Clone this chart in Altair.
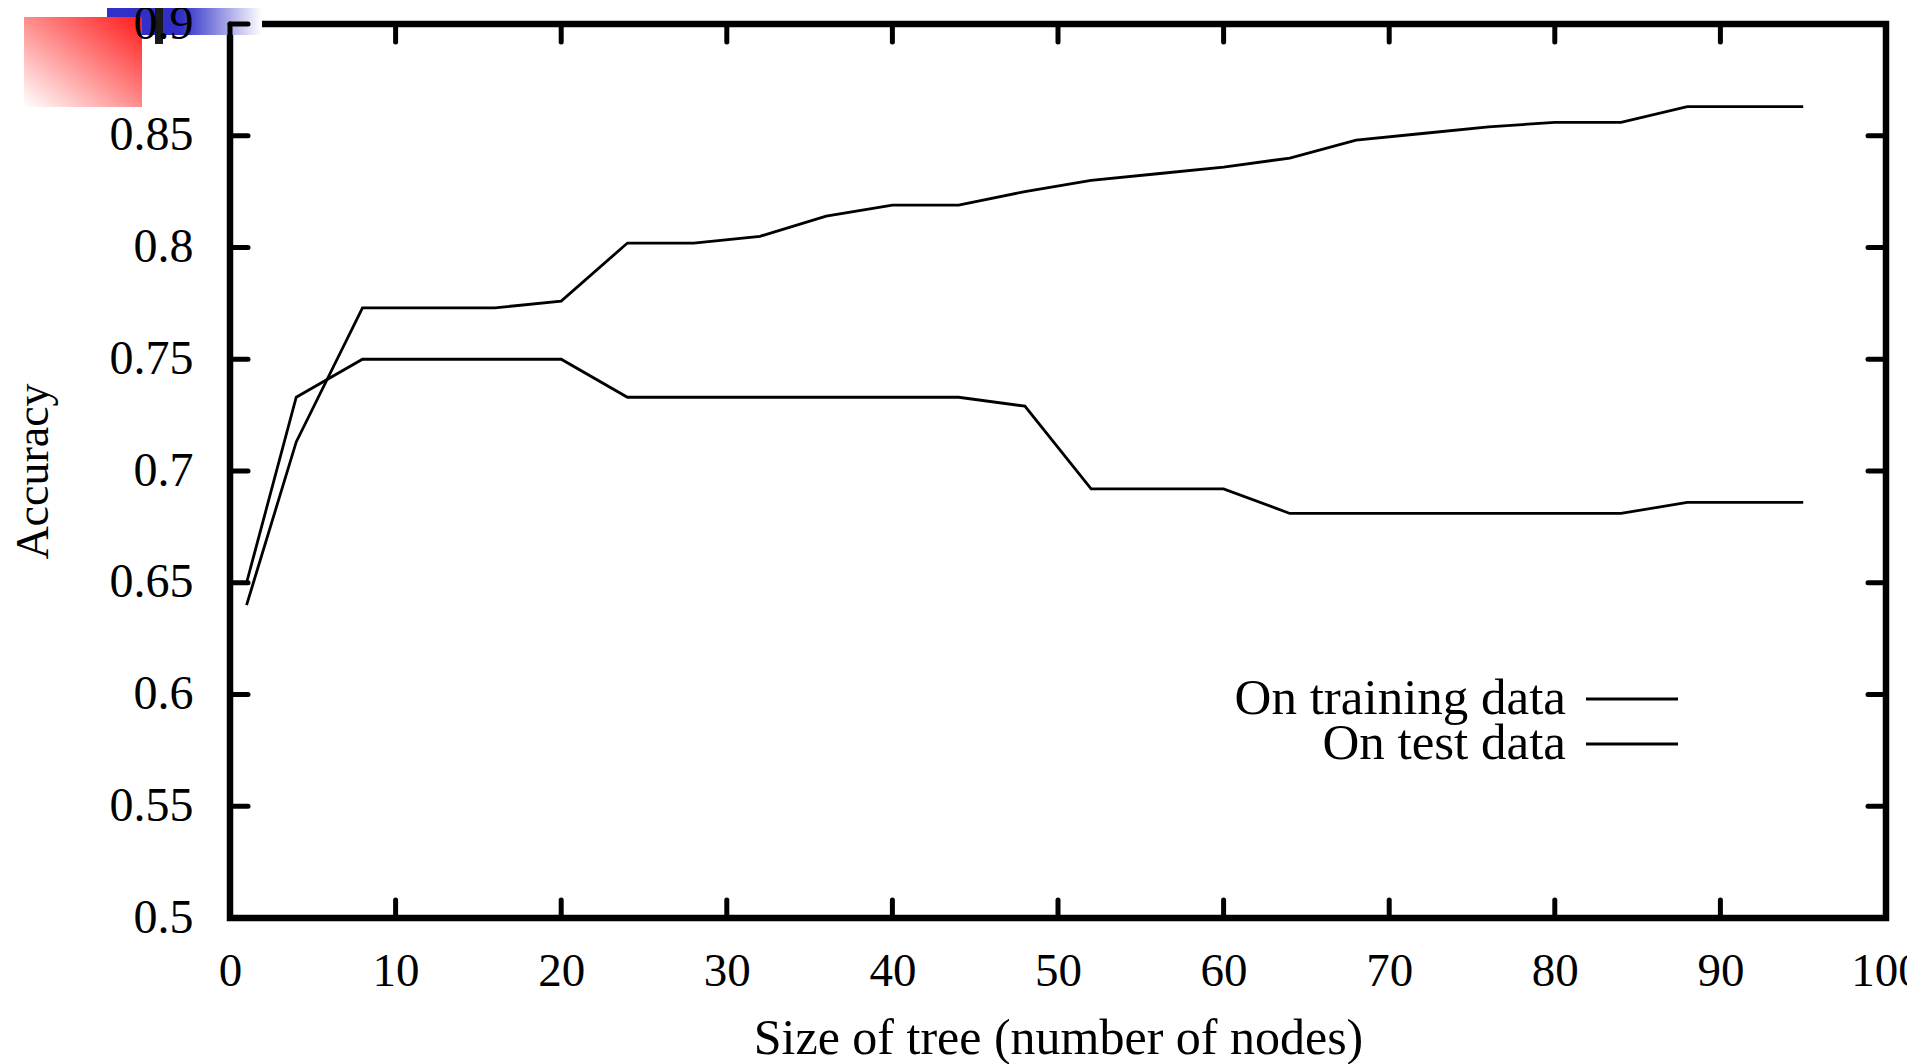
import altair as alt
import pandas as pd

# ---- data ----
sizes = [1, 4, 8, 12, 16, 20, 24, 28, 32, 36, 40, 44, 48, 52, 56, 60, 64, 68, 72, 76, 80, 84, 88, 95]
train_acc = [0.640, 0.713, 0.773, 0.773, 0.773, 0.776, 0.802, 0.802, 0.805, 0.814, 0.819, 0.819,
             0.825, 0.830, 0.833, 0.836, 0.840, 0.848, 0.851, 0.854, 0.856, 0.856, 0.863, 0.863]
test_acc = [0.650, 0.733, 0.750, 0.750, 0.750, 0.750, 0.733, 0.733, 0.733, 0.733, 0.733, 0.733,
            0.729, 0.692, 0.692, 0.692, 0.681, 0.681, 0.681, 0.681, 0.681, 0.681, 0.686, 0.686]
x_ticks = [0, 10, 20, 30, 40, 50, 60, 70, 80, 90, 100]
y_ticks = [0.5, 0.55, 0.6, 0.65, 0.7, 0.75, 0.8, 0.85, 0.9]
series_names = ["On training data", "On test data"]

W, H = 1656, 894
FONT = "Liberation Serif"
TICK_LEN = 18

df = pd.DataFrame({
    "size": sizes * 2,
    "acc": train_acc + test_acc,
    "series": [series_names[0]] * len(sizes) + [series_names[1]] * len(sizes),
})
xt = pd.DataFrame({"size": x_ticks})
yt = pd.DataFrame({"acc": y_ticks})
one = pd.DataFrame({"k": [0]})

xs = alt.Scale(domain=[0, 100], nice=False, zero=False)
ys = alt.Scale(domain=[0.5, 0.9], nice=False, zero=False)

x_axis = alt.Axis(values=x_ticks, format="d", ticks=False, tickSize=0, domain=False, grid=False,
                  labelFont=FONT, labelFontSize=47, labelColor="black", labelPadding=30,
                  labelFlush=False, labelBaseline="top", labelOverlap=False,
                  title="Size of tree (number of nodes)", titleFont=FONT, titleFontSize=50,
                  titleFontWeight="normal", titleColor="black", titleY=135,
                  titleBaseline="alphabetic", zindex=1)
y_axis = alt.Axis(values=y_ticks, format=".2~f", ticks=False, tickSize=0, domain=False, grid=False,
                  labelFont=FONT, labelFontSize=48, labelColor="black", labelPadding=37,
                  labelFlush=False, labelOverlap=False,
                  title="Accuracy", titleFont=FONT, titleFontSize=46, titleFontWeight="normal",
                  titleColor="black", titleX=-197, titleY=H / 2, titleBaseline="middle",
                  titleAlign="center", zindex=1)

# decorations (top-left corner)
blue = alt.Chart(one).mark_rect(
    color=alt.LinearGradient(gradient="linear", x1=0, y1=0, x2=1, y2=0,
                             stops=[alt.GradientStop(color="#3030c8", offset=0),
                                    alt.GradientStop(color="#3030c8", offset=0.48),
                                    alt.GradientStop(color="#ffffff", offset=1)])
).encode(x=alt.value(-123), x2=alt.value(32), y=alt.value(-24), y2=alt.value(11))

red = alt.Chart(one).mark_rect(
    color=alt.LinearGradient(gradient="linear", x1=1, y1=0, x2=0, y2=1,
                             stops=[alt.GradientStop(color="#ff1a1a", offset=0),
                                    alt.GradientStop(color="#ff8c8c", offset=0.5),
                                    alt.GradientStop(color="#ffffff", offset=1)])
).encode(x=alt.value(-206), x2=alt.value(-88), y=alt.value(-7), y2=alt.value(83))

bar = alt.Chart(one).mark_rect(color="#1a1a1a").encode(
    x=alt.value(-75), x2=alt.value(-67), y=alt.value(-24), y2=alt.value(20))

lines = alt.Chart(df).mark_line(color="black", strokeWidth=2.8).encode(
    x=alt.X("size:Q", scale=xs, axis=x_axis),
    y=alt.Y("acc:Q", scale=ys, axis=y_axis),
    detail="series:N",
)

tick_style = dict(color="black", strokeWidth=5, strokeCap="round")
bottom_ticks = alt.Chart(xt).mark_rule(**tick_style).encode(
    x=alt.X("size:Q", scale=xs), y=alt.value(H), y2=alt.value(H - TICK_LEN))
top_ticks = alt.Chart(xt).mark_rule(**tick_style).encode(
    x=alt.X("size:Q", scale=xs), y=alt.value(0), y2=alt.value(TICK_LEN))
left_ticks = alt.Chart(yt).mark_rule(**tick_style).encode(
    y=alt.Y("acc:Q", scale=ys), x=alt.value(0), x2=alt.value(TICK_LEN))
right_ticks = alt.Chart(yt).mark_rule(**tick_style).encode(
    y=alt.Y("acc:Q", scale=ys), x=alt.value(W - TICK_LEN), x2=alt.value(W))

# legend (text left, line sample right)
leg_layers = []
for i, name in enumerate(series_names):
    yy = 675 + 45 * i
    d = pd.DataFrame({"label": [name]})
    leg_layers.append(alt.Chart(d).mark_text(font=FONT, fontSize=51, align="right",
                                             baseline="middle", color="black").encode(
        text="label:N", x=alt.value(1336), y=alt.value(yy)))
    leg_layers.append(alt.Chart(d).mark_rule(color="black", strokeWidth=2.8).encode(
        x=alt.value(1356), x2=alt.value(1448), y=alt.value(yy)))

chart = alt.layer(blue, red, bar, lines, bottom_ticks, top_ticks, left_ticks, right_ticks,
                  *leg_layers).properties(
    width=W, height=H,
    padding={"left": 222, "top": 16, "right": 21, "bottom": 146},
    autosize=alt.AutoSizeParams(type="none"),
    background="white",
).configure_view(stroke="black", strokeWidth=6.5)

chart.save("out.html", embed_options={"renderer": "svg", "actions": False})
